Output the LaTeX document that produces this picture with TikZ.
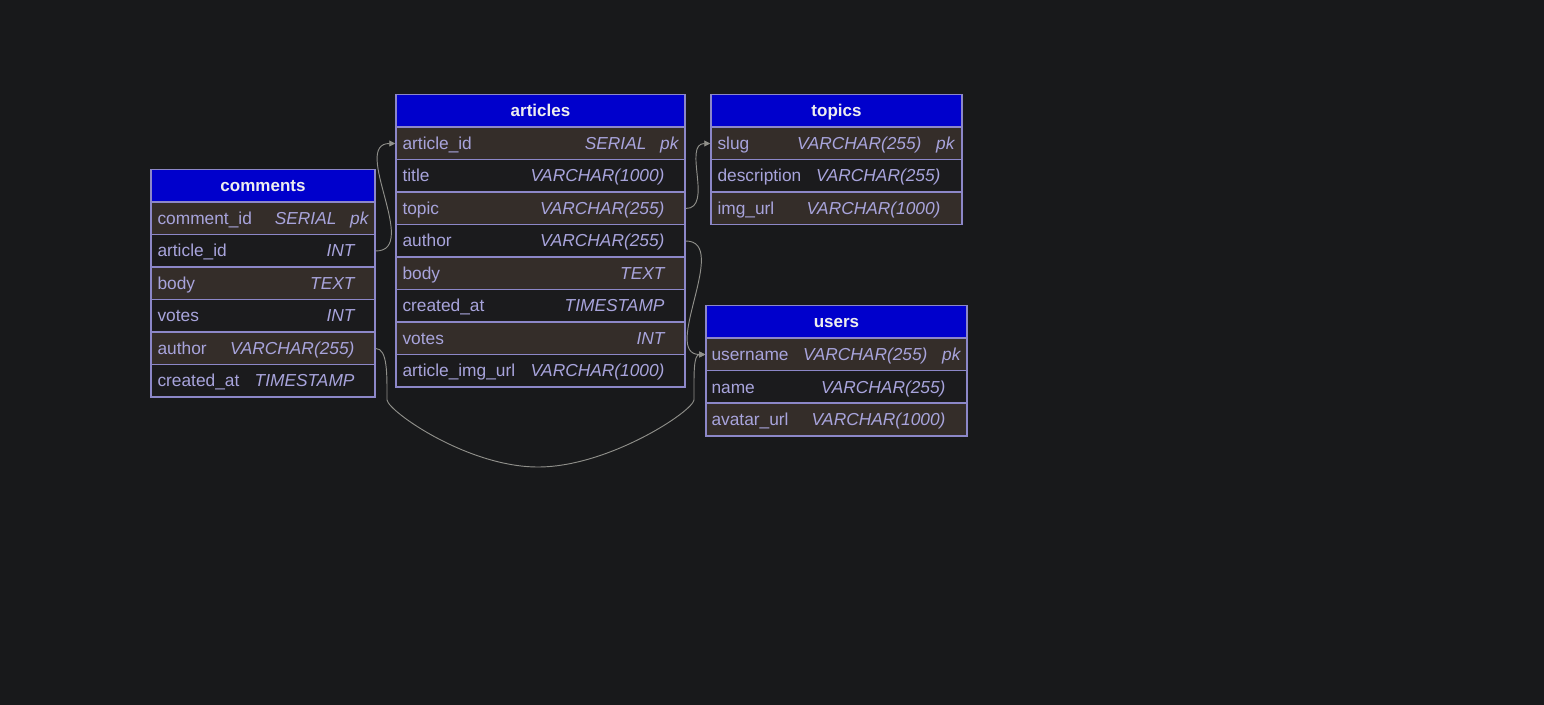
\documentclass[tikz,border=0pt]{standalone}
\usepackage{fontspec}
\setmainfont{Liberation Sans}
\usetikzlibrary{arrows.meta,calc}

\newdimen\px \px=0.75pt
\definecolor{bgcol}{HTML}{18191B}
\definecolor{headcol}{HTML}{0000CC}
\definecolor{rowfill1}{HTML}{342D29}
\definecolor{rowfill0}{HTML}{1B1B1D}
\definecolor{edgecol}{HTML}{8C87C8}
\definecolor{txtcol}{HTML}{A8A4DC}
\definecolor{titlecol}{HTML}{EEEEEE}
\definecolor{linkcol}{HTML}{8F8F8A}

\tikzset{
  header/.style={draw=edgecol, line width=1.5\px, fill=headcol, minimum height=32.5\px, inner sep=0pt,
    text=titlecol, font=\fontsize{12.75}{15}\selectfont\bfseries, text height=11\px, text depth=0pt},
  rowbox/.style={draw=edgecol, line width=1.5\px, minimum height=32.5\px, inner sep=0pt},
  field/.style={anchor=base west, inner sep=0pt, text=txtcol, font=\fontsize{13}{15}\selectfont},
  ftype/.style={anchor=base east, inner sep=0pt, text=txtcol, font=\fontsize{13}{15}\selectfont\itshape},
  link/.style={draw=linkcol, line width=0.7pt, -{Triangle[length=4.5pt,width=4.5pt]}},
}

\begin{document}
\begin{tikzpicture}[x=\px,y=-\px]
	\useasboundingbox (0,0) rectangle (1544,705);
	\fill[bgcol] (0,0) rectangle (1544,705);

	% comments
	\node[header, minimum width=224\px] (comments) at (263,186) {comments};
	\foreach \fn/\ft [count=\i] in {comment\_id/SERIAL, article\_id/INT, body/TEXT, votes/INT, author/VARCHAR(255), created\_at/TIMESTAMP} {
		\pgfmathtruncatemacro\odd{mod(\i,2)}
		\node[rowbox, minimum width=224\px, fill=rowfill\odd] (comments-\i) at (263,{186+32.5*\i}) {};
		\node[field] (comments-\i-name) at ($(comments-\i.west)+(7,6)$) {\fn};
		\ifnum\i=1
			\node[ftype] (comments-\i-type) at ($(comments-\i.east)+(-39,6)$) {\ft};
			\node[ftype] (comments-pk) at ($(comments-\i.east)+(-7,6)$) {pk};
		\else
			\node[ftype] (comments-\i-type) at ($(comments-\i.east)+(-21,6)$) {\ft};
		\fi
	}

	% articles
	\node[header, minimum width=289\px] (articles) at (540.5,111) {articles};
	\foreach \fn/\ft [count=\i] in {article\_id/SERIAL, title/VARCHAR(1000), topic/VARCHAR(255), author/VARCHAR(255), body/TEXT, created\_at/TIMESTAMP, votes/INT, article\_img\_url/VARCHAR(1000)} {
		\pgfmathtruncatemacro\odd{mod(\i,2)}
		\node[rowbox, minimum width=289\px, fill=rowfill\odd] (articles-\i) at (540.5,{111+32.5*\i}) {};
		\node[field] (articles-\i-name) at ($(articles-\i.west)+(7,6)$) {\fn};
		\ifnum\i=1
			\node[ftype] (articles-\i-type) at ($(articles-\i.east)+(-39,6)$) {\ft};
			\node[ftype] (articles-pk) at ($(articles-\i.east)+(-7,6)$) {pk};
		\else
			\node[ftype] (articles-\i-type) at ($(articles-\i.east)+(-21,6)$) {\ft};
		\fi
	}

	% topics
	\node[header, minimum width=251\px] (topics) at (836.5,111) {topics};
	\foreach \fn/\ft [count=\i] in {slug/VARCHAR(255), description/VARCHAR(255), img\_url/VARCHAR(1000)} {
		\pgfmathtruncatemacro\odd{mod(\i,2)}
		\node[rowbox, minimum width=251\px, fill=rowfill\odd] (topics-\i) at (836.5,{111+32.5*\i}) {};
		\node[field] (topics-\i-name) at ($(topics-\i.west)+(7,6)$) {\fn};
		\ifnum\i=1
			\node[ftype] (topics-\i-type) at ($(topics-\i.east)+(-41,6)$) {\ft};
			\node[ftype] (topics-pk) at ($(topics-\i.east)+(-8,6)$) {pk};
		\else
			\node[ftype] (topics-\i-type) at ($(topics-\i.east)+(-22,6)$) {\ft};
		\fi
	}

	% users
	\node[header, minimum width=261\px] (users) at (836.5,322) {users};
	\foreach \fn/\ft [count=\i] in {username/VARCHAR(255), name/VARCHAR(255), avatar\_url/VARCHAR(1000)} {
		\pgfmathtruncatemacro\odd{mod(\i,2)}
		\node[rowbox, minimum width=261\px, fill=rowfill\odd] (users-\i) at (836.5,{322+32.5*\i}) {};
		\node[field] (users-\i-name) at ($(users-\i.west)+(6,6)$) {\fn};
		\ifnum\i=1
			\node[ftype] (users-\i-type) at ($(users-\i.east)+(-40,6)$) {\ft};
			\node[ftype] (users-pk) at ($(users-\i.east)+(-7,6)$) {pk};
		\else
			\node[ftype] (users-\i-type) at ($(users-\i.east)+(-22,6)$) {\ft};
		\fi
	}

	% foreign keys
	\draw[link] (comments-2.east) .. controls +(45,0) and +(-45,0) .. (articles-1.west);
	\draw[link] (articles-3.east) .. controls +(28,0) and +(-28,0) .. (topics-1.west);
	\draw[link] (articles-4.east) .. controls +(45,0) and +(-45,0) .. (users-1.west);

	\coordinate (sagL) at (387,400);
	\coordinate (sag) at (538,467);
	\coordinate (sagR) at (694,400);
	\draw[link] (comments-5.east) .. controls +(12,0) and +(0,-25) .. (sagL)
		.. controls +(2,12) and +(-70,0) .. (sag)
		.. controls +(70,0) and +(-2,12) .. (sagR)
		.. controls +(0,-25) and +(-12,0) .. (users-1.west);
\end{tikzpicture}
\end{document}
